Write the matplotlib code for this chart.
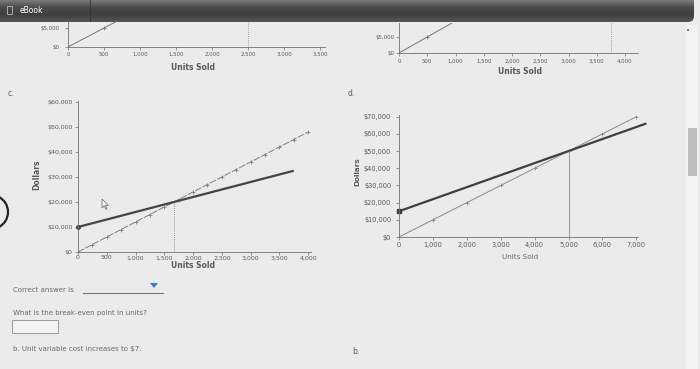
import matplotlib
matplotlib.use("Agg")
import matplotlib.pyplot as plt
import numpy as np
from matplotlib.patches import Rectangle, FancyBboxPatch, Arc, Polygon
from matplotlib.colors import LinearSegmentedColormap

W, H = 700, 369

# values
tl_units = [0, 500, 1000]
tl_revenue = [0, 5000, 10000]
tl_breakeven = 2500
tl_xticks = [0, 500, 1000, 1500, 2000, 2500, 3000, 3500]
tl_yticks = [0, 5000]

tr_units = [0, 500, 1000]
tr_revenue = [0, 5000, 10000]
tr_breakeven = 3750
tr_xticks = [0, 500, 1000, 1500, 2000, 2500, 3000, 3500, 4000]
tr_yticks = [0, 5000]

c_units = [0, 250, 500, 750, 1000, 1250, 1500, 1750, 2000,
           2250, 2500, 2750, 3000, 3250, 3500, 3750, 4000]
c_revenue = [0, 3000, 6000, 9000, 12000, 15000, 18000, 21000, 24000,
             27000, 30000, 33000, 36000, 39000, 42000, 45000, 48000]
c_cost_units = [0, 3750]
c_cost = [10000, 32500]
c_breakeven = 1667
c_breakeven_dollars = 20000
c_xticks = [0, 500, 1000, 1500, 2000, 2500, 3000, 3500, 4000]
c_yticks = [0, 10000, 20000, 30000, 40000, 50000, 60000]

d_units = [0, 1000, 2000, 3000, 4000, 5000, 6000, 7000]
d_revenue = [0, 10000, 20000, 30000, 40000, 50000, 60000, 70000]
d_cost_units = [0, 7300]
d_cost = [15000, 66100]
d_breakeven = 5000
d_breakeven_dollars = 50000
d_xticks = [0, 1000, 2000, 3000, 4000, 5000, 6000, 7000]
d_yticks = [0, 10000, 20000, 30000, 40000, 50000, 60000, 70000]

BG = "#ebebeb"
TXT = "#5a5a5a"

fig = plt.figure(figsize=(W / 100, H / 100), dpi=100)
fig.patch.set_facecolor(BG)

# page layer in pixel coordinates
bg = fig.add_axes([0, 0, 1, 1], zorder=0)
bg.set_xlim(0, W)
bg.set_ylim(H, 0)
bg.axis("off")

# top dark bar
cm = LinearSegmentedColormap.from_list("bar", ["#7a7a7a", "#4a4a4a", "#3e3e3e", "#565656"])
grad = np.linspace(0, 1, 50).reshape(-1, 1)
im = bg.imshow(grad, cmap=cm, extent=[0, 694, 22, 0], aspect="auto", zorder=3)
clip = FancyBboxPatch((-10, -10), 704, 32, boxstyle="round,pad=0,rounding_size=6",
                      transform=bg.transData, facecolor="none", edgecolor="none")
bg.add_patch(clip)
im.set_clip_path(clip)
bg.plot([90, 90], [0, 21], color="#333333", lw=0.6, zorder=4)
bg.add_patch(Rectangle((7, 6), 5, 8, facecolor="none", edgecolor="#bbbbbb", lw=0.6, zorder=4))
bg.text(20, 10.5, "eBook", color="white", fontsize=5.5, va="center", zorder=4)

# scrollbar on the right
bg.add_patch(Rectangle((685, 25), 13, 344, facecolor="#f3f3f3", edgecolor="none", zorder=1))
bg.add_patch(Rectangle((688, 128), 9, 48, facecolor="#bdbdbd", edgecolor="none", zorder=2))
bg.add_patch(Rectangle((687, 29), 2, 2, facecolor="#777777", edgecolor="none", zorder=2))

# dark arc on the left edge
bg.add_patch(Arc((-9, 212), 34, 34, theta1=-65, theta2=65, color="#222222", lw=1.6, zorder=2))

# part labels and question text
bg.text(8, 93, "c.", color=TXT, fontsize=5.5, va="center")
bg.text(348, 93, "d.", color=TXT, fontsize=5.5, va="center")
bg.text(352, 352, "b.", color=TXT, fontsize=5.5, va="center")
bg.text(13, 290, "Correct answer is", color="#6a6a6a", fontsize=5, va="center")
bg.plot([83, 163], [293, 293], color="#777777", lw=0.8)
bg.add_patch(Polygon([[150, 283], [158, 283], [154, 288]], closed=True,
                     facecolor="#3a78d0", edgecolor="none"))
bg.text(13, 313, "What is the break-even point in units?", color="#6a6a6a", fontsize=5, va="center")
bg.add_patch(Rectangle((12, 320), 46, 13, facecolor="#f4f4f4", edgecolor="#9a9a9a", lw=0.7))
bg.text(13, 349, "b. Unit variable cost increases to $7.", color="#6a6a6a", fontsize=5, va="center")

# mouse cursor inside chart c
cur = np.array([[0, 0], [0, 9], [2.2, 6.8], [3.8, 10.2], [5.0, 9.7], [3.5, 6.4], [6.5, 6.4]])
bg.add_patch(Polygon(cur + [102, 199], closed=True, facecolor="#f8f8f8",
                     edgecolor="#777777", lw=0.6, zorder=2))

# axis titles
bg.text(193, 68, "Units Sold", color=TXT, fontsize=5.5, weight="bold", ha="center", va="center")
bg.text(520, 72, "Units Sold", color=TXT, fontsize=5.5, weight="bold", ha="center", va="center")
bg.text(193, 265, "Units Sold", color=TXT, fontsize=5.5, weight="bold", ha="center", va="center")
bg.text(37, 175, "Dollars", color=TXT, fontsize=5.5, weight="bold", rotation=90, ha="center", va="center")
bg.text(520, 257, "Units Sold", color="#6a6a6a", fontsize=5.2, ha="center", va="center")
bg.text(357, 172, "Dollars", color=TXT, fontsize=5.2, weight="bold", rotation=90, ha="center", va="center")


def px_axes(x0, y0, x1, y1):
    ax = fig.add_axes([x0 / W, 1 - y1 / H, (x1 - x0) / W, (y1 - y0) / H], zorder=1)
    ax.patch.set_alpha(0)
    for s in ("top", "right"):
        ax.spines[s].set_visible(False)
    for s in ("left", "bottom"):
        ax.spines[s].set_color("#707070")
        ax.spines[s].set_linewidth(0.6)
    return ax


def style(ax, xticks, yticks, fs, xpad, ypad):
    ax.set_xticks(xticks)
    ax.set_xticklabels([f"{v:,}" for v in xticks])
    ax.set_yticks(yticks)
    ax.set_yticklabels([f"${v:,}" for v in yticks])
    ax.tick_params(axis="both", length=2, width=0.5, color="#707070",
                   labelsize=fs, labelcolor=TXT)
    ax.tick_params(axis="x", pad=xpad)
    ax.tick_params(axis="y", pad=ypad)


# top-left partial chart
ax = px_axes(68, 21, 325, 47)
ax.set_xlim(0, 3570)
ax.set_ylim(0, 6840)
ax.plot(tl_units, tl_revenue, color="#777777", lw=0.7, marker="+", ms=3, mew=0.6, markevery=[1])
ax.plot([tl_breakeven, tl_breakeven], [0, 6840], color="#888888", lw=0.6, ls=(0, (1, 1.5)))
style(ax, tl_xticks, tl_yticks, 3.9, 1.5, 4)

# top-right partial chart
ax = px_axes(399, 23, 638, 53)
ax.set_xlim(0, 4230)
ax.set_ylim(0, 9370)
ax.plot(tr_units, tr_revenue, color="#777777", lw=0.7, marker="+", ms=3, mew=0.6, markevery=[1])
ax.plot([tr_breakeven, tr_breakeven], [0, 9370], color="#888888", lw=0.6, ls=(0, (1, 1.5)))
style(ax, tr_xticks, tr_yticks, 3.9, 2, 1.5)

# chart c
ax = px_axes(78, 101, 311, 252)
ax.set_xlim(0, 4050)
ax.set_ylim(0, 60400)
ax.plot(c_units, c_revenue, color="#808080", lw=0.7, ls=(0, (7, 1.5)),
        marker="+", ms=3, mew=0.6, markevery=slice(1, None), clip_on=False)
ax.plot(c_cost_units, c_cost, color="#444444", lw=1.6, solid_capstyle="butt", clip_on=False)
ax.plot(c_cost_units[:1], c_cost[:1], "o", color="#444444", ms=2.5, clip_on=False)
ax.plot([c_breakeven, c_breakeven], [0, c_breakeven_dollars], color="#808080", lw=0.6,
        ls=(0, (1, 1.5)))
style(ax, c_xticks, c_yticks, 4.5, 0.5, 2)

# chart d
ax = px_axes(399, 115, 638, 237)
ax.set_xlim(0, 7050)
ax.set_ylim(0, 71000)
ax.plot(d_units, d_revenue, color="#8a8a8a", lw=0.7, marker="+", ms=3, mew=0.6,
        markevery=slice(1, None), clip_on=False)
ax.plot(d_cost_units, d_cost, color="#3f3f3f", lw=1.6, solid_capstyle="butt", clip_on=False)
ax.plot(d_cost_units[:1], d_cost[:1], "s", color="#3f3f3f", ms=2.2, clip_on=False)
ax.plot([d_breakeven, d_breakeven], [0, d_breakeven_dollars], color="#8a8a8a", lw=0.6)
style(ax, d_xticks, d_yticks, 4.8, 1.5, 3.5)

fig.savefig("out.png", dpi=100, facecolor=fig.get_facecolor())
